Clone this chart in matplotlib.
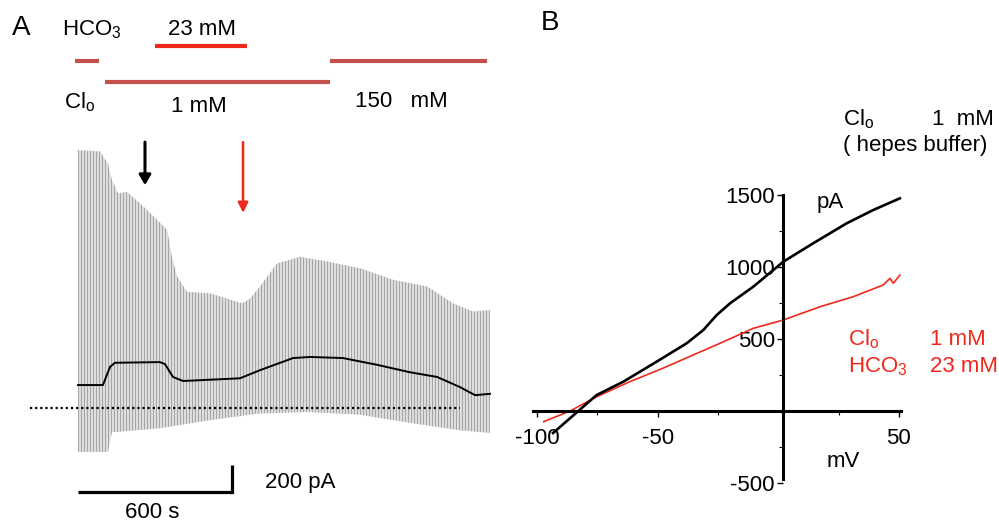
import matplotlib
matplotlib.use("Agg")
import matplotlib.pyplot as plt
from matplotlib.patches import Polygon
import numpy as np

plt.rcParams['font.family'] = ['Liberation Sans', 'DejaVu Sans']
plt.rcParams['mathtext.default'] = 'regular'

# panel A: whole-cell current during solution changes (time in s, current in pA)
top_t = [0, 86, 117, 132, 156, 191, 242, 308, 347, 366, 386, 425, 514, 581, 639, 670,
         709, 748, 775, 865, 970, 1099, 1227, 1360, 1461, 1539, 1605]
top_pa = [1910, 1900, 1810, 1690, 1590, 1600, 1515, 1395, 1320, 1120, 975, 860, 850,
          810, 775, 810, 900, 1000, 1070, 1120, 1085, 1035, 950, 900, 775, 715, 725]
bot_t = [0, 117, 132, 319, 514, 709, 904, 1099, 1293, 1488, 1605]
bot_pa = [-325, -325, -180, -150, -90, -40, -30, -50, -110, -165, -185]
mean_t = [0, 97, 125, 144, 319, 339, 370, 409, 631, 709, 838, 904, 1032, 1165, 1293,
          1399, 1488, 1547, 1605]
mean_pa = [170, 170, 305, 335, 340, 325, 230, 200, 220, 280, 370, 378, 370, 320, 265,
           230, 155, 95, 105]
sweep_interval = 11.7  # s between voltage ramps

# solution application periods (s)
cl_high_1 = (-12, 82)
cl_low = (105, 982)
cl_high_2 = (982, 1593)
hco3_on = (300, 658)
arrow_black_t = 261
arrow_red_t = 643

# panel B: I-V relations (mV, pA)
iv_black_mv = [-93.4, -82.9, -75.3, -64.2, -50.4, -38.0, -31.1, -25.5, -20.0, -10.4,
               2.1, 14.5, 28.3, 39.4, 50.4]
iv_black_pa = [-153, 0, 111, 204, 343, 470, 562, 667, 748, 863,
               1037, 1165, 1303, 1396, 1477]
iv_red_mv = [-97.3, -86.3, -75.3, -61.5, -47.7, -33.8, -24.2, -10.4, 2.1, 17.3,
             31.1, 43.5, 46.3, 47.7, 50.4]
iv_red_pa = [-74, 0, 99, 204, 298, 400, 470, 574, 632, 724,
             794, 875, 921, 887, 944]

RED = '#f0281c'
BROWN = '#c4504c'
FS = 16

W, H = 999, 525
fig = plt.figure(figsize=(W / 100, H / 100), dpi=100)


def fx(x):
    return x / W


def fy(y):
    return 1 - y / H


# ---- panel A ----
sec_per_px = 600 / 154
pa_per_px = 200 / 27
x0, y0 = 78, 408  # pixel of t=0, I=0
ax = fig.add_axes([0, 0, 500 / W, 1])
ax.set_xlim((0 - x0) * sec_per_px, (500 - x0) * sec_per_px)
ax.set_ylim((y0 - H) * pa_per_px, y0 * pa_per_px)
ax.axis('off')

env = list(zip(top_t, top_pa)) + list(zip(bot_t, bot_pa))[::-1]
patch = Polygon(env, closed=True, facecolor='#e3e3e3', edgecolor='none')
ax.add_patch(patch)
sweeps = np.arange(0, top_t[-1] + 1, sweep_interval)
vl = ax.vlines(sweeps, -1000, 2500, color='#a6a6a6', lw=0.85)
vl.set_clip_path(patch)
ax.plot(mean_t, mean_pa, color='black', lw=1.4)
ax.plot([-187, 1488], [0, 0], color='black', lw=1.6, ls=(0, (1, 1.3)))

ax.plot(cl_high_1, [2570, 2570], color=BROWN, lw=3, solid_capstyle='butt')
ax.plot(cl_low, [2415, 2415], color=BROWN, lw=3, solid_capstyle='butt')
ax.plot(cl_high_2, [2570, 2570], color=BROWN, lw=3, solid_capstyle='butt')
ax.plot(hco3_on, [2681, 2681], color=RED, lw=3, solid_capstyle='butt')

ax.annotate('', xy=(arrow_black_t, 1630), xytext=(arrow_black_t, 1990),
            arrowprops=dict(arrowstyle='-|>,head_width=0.35,head_length=0.6',
                            color='black', lw=2.2))
ax.annotate('', xy=(arrow_red_t, 1425), xytext=(arrow_red_t, 1990),
            arrowprops=dict(arrowstyle='-|>,head_width=0.3,head_length=0.6',
                            color=RED, lw=1.8))

# scale bar 600 s / 200 pA
ax.plot([0, 600, 600], [-622, -622, -422], color='black', lw=2.3,
        solid_joinstyle='miter', solid_capstyle='butt')

fig.text(fx(12), fy(35), 'A', fontsize=20, va='baseline')
fig.text(fx(62), fy(35), r'$HCO_3$', fontsize=FS, va='baseline')
fig.text(fx(168), fy(35), '23 mM', fontsize=FS, va='baseline')
fig.text(fx(64), fy(108), r'$Cl_o$', fontsize=FS, va='baseline')
fig.text(fx(171), fy(112), '1 mM', fontsize=FS, va='baseline')
fig.text(fx(355), fy(107), '150   mM', fontsize=FS, va='baseline')
fig.text(fx(265), fy(488), '200 pA', fontsize=FS, va='baseline')
fig.text(fx(125), fy(518), '600 s', fontsize=FS, va='baseline')

# ---- panel B ----
mv_per_px = 50 / 120.6
pb_per_px = 500 / 72
xb0, yb0 = 778.3, 411
left, right, top, bottom = 533, 901, 195, 490
bx = fig.add_axes([fx(left), fy(bottom), (right - left) / W, (bottom - top) / H])
bx.set_xlim((left - xb0) * mv_per_px, (right - xb0) * mv_per_px)
bx.set_ylim((yb0 - bottom) * pb_per_px, (yb0 - top) * pb_per_px)
bx.patch.set_visible(False)
for s in ['top', 'right']:
    bx.spines[s].set_visible(False)
bx.spines['left'].set_position(('data', 2))
bx.spines['bottom'].set_position(('data', 0))
bx.spines['left'].set_bounds((yb0 - 479) * pb_per_px, 1500)
for s in ['left', 'bottom']:
    bx.spines[s].set_linewidth(2.2)
bx.set_xticks([-100, -50, 50])
bx.set_xticklabels(['-100', '-50', '50'])
bx.set_xticks([-75, -25, 25], minor=True)
bx.set_yticks([-500, 500, 1000, 1500])
bx.set_yticklabels(['-500', '500', '1000', '1500'])
bx.set_yticks([-250, 250, 750, 1250], minor=True)
bx.tick_params(axis='both', which='major', length=4, width=1, labelsize=FS)
bx.tick_params(axis='both', which='minor', length=3, width=0.8)
bx.tick_params(axis='x', pad=8)
bx.tick_params(axis='y', pad=2)

bx.plot(iv_red_mv, iv_red_pa, color=RED, lw=1.2, clip_on=False)
bx.plot(iv_black_mv, iv_black_pa, color='black', lw=1.9, clip_on=False)

fig.text(fx(541), fy(30), 'B', fontsize=20, va='baseline')
fig.text(fx(817), fy(208), 'pA', fontsize=FS, va='baseline')
fig.text(fx(827), fy(467), 'mV', fontsize=FS, va='baseline')
fig.text(fx(848), fy(345), r'$Cl_o$', fontsize=FS, va='baseline', color=RED)
fig.text(fx(930), fy(345), '1 mM', fontsize=FS, va='baseline', color=RED)
fig.text(fx(848), fy(372), r'$HCO_3$', fontsize=FS, va='baseline', color=RED)
fig.text(fx(930), fy(372), '23 mM', fontsize=FS, va='baseline', color=RED)
fig.text(fx(843), fy(125), r'$Cl_o$', fontsize=FS, va='baseline')
fig.text(fx(932), fy(125), '1  mM', fontsize=FS, va='baseline')
fig.text(fx(843), fy(151), '( hepes buffer)', fontsize=FS, va='baseline')

fig.savefig('out.png', dpi=100)
